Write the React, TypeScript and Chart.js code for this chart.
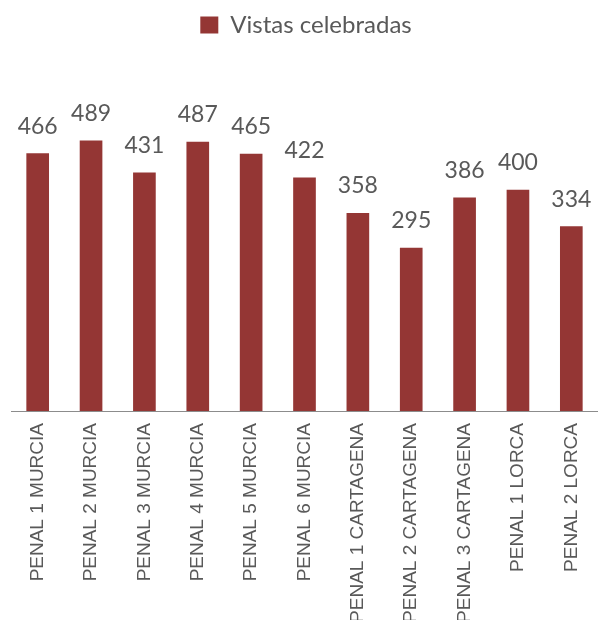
import React, { useEffect, useRef } from "react";
import { Chart, registerables } from "chart.js";

Chart.register(...registerables);

const categories: string[] = [
  "PENAL 1 MURCIA",
  "PENAL 2 MURCIA",
  "PENAL 3 MURCIA",
  "PENAL 4 MURCIA",
  "PENAL 5 MURCIA",
  "PENAL 6 MURCIA",
  "PENAL 1 CARTAGENA",
  "PENAL 2 CARTAGENA",
  "PENAL 3 CARTAGENA",
  "PENAL 1 LORCA",
  "PENAL 2 LORCA",
];

const vistasCelebradas: number[] = [466, 489, 431, 487, 465, 422, 358, 295, 386, 400, 334];

const seriesLabel = "Vistas celebradas";

const valueLabelsPlugin = {
  id: "valueLabels",
  afterDatasetsDraw(chart: any) {
    const ctx = chart.ctx;
    const meta = chart.getDatasetMeta(0);
    const data = chart.data.datasets[0].data as number[];
    ctx.save();
    ctx.font = "23px Lato";
    ctx.fillStyle = "#595959";
    ctx.textAlign = "center";
    ctx.textBaseline = "alphabetic";
    meta.data.forEach((bar: any, i: number) => {
      ctx.fillText(String(data[i]), bar.x, bar.y - 20);
    });
    ctx.restore();
  },
};

export default function App() {
  const canvasRef = useRef<HTMLCanvasElement | null>(null);

  useEffect(() => {
    if (!canvasRef.current) return;
    const chart = new Chart(canvasRef.current, {
      type: "bar",
      data: {
        labels: categories,
        datasets: [
          {
            label: seriesLabel,
            data: vistasCelebradas,
            backgroundColor: "#943634",
            borderWidth: 0,
            barThickness: 22,
          },
        ],
      },
      options: {
        animation: false,
        responsive: false,
        maintainAspectRatio: false,
        layout: { padding: { top: 3, left: 11, right: -3, bottom: 0 } },
        plugins: {
          legend: {
            display: true,
            position: "top",
            labels: {
              font: { family: "Lato", size: 24 },
              color: "#595959",
              boxWidth: 18,
              boxHeight: 17,
              padding: 10,
            },
          },
          tooltip: { enabled: false },
        },
        scales: {
          x: {
            grid: { display: false, drawTicks: false },
            border: { display: true, color: "#8c8c8c", width: 1 },
            ticks: {
              autoSkip: false,
              minRotation: 90,
              maxRotation: 90,
              padding: 12,
              color: "#595959",
              font: { family: "'Liberation Sans', Arial, sans-serif", size: 19 },
            },
            afterFit: (scale: any) => {
              scale.height = 209;
              scale.paddingLeft = 0;
              scale.paddingRight = 0;
            },
          },
          y: {
            display: false,
            min: 0,
            max: 659,
          },
        },
      },
      plugins: [valueLabelsPlugin],
    });
    return () => chart.destroy();
  }, []);

  return (
    <div style={{ position: "fixed", left: 0, top: 0, width: 598, height: 620, background: "#fff" }}>
      <canvas ref={canvasRef} width={598} height={620} style={{ display: "block" }} />
    </div>
  );
}
